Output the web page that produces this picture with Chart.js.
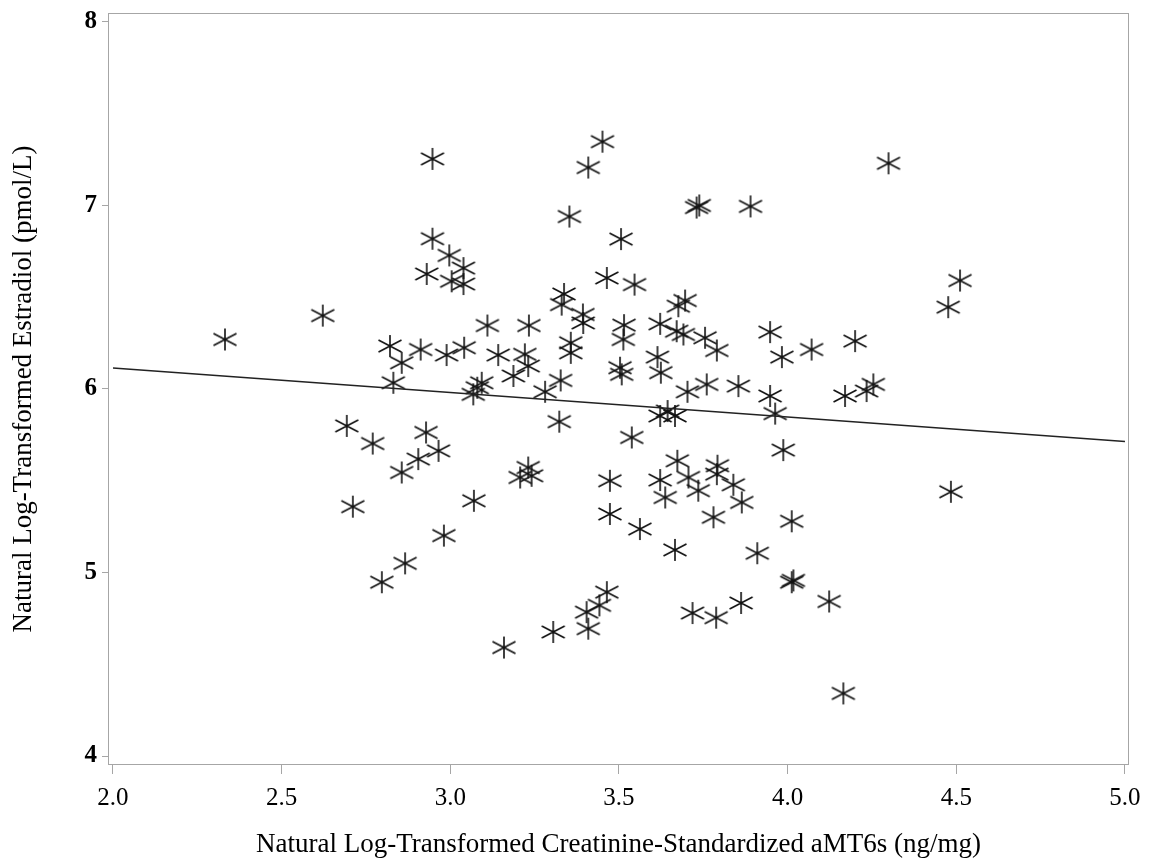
<!DOCTYPE html>
<html>
<head>
<meta charset="utf-8">
<script src="https://cdn.jsdelivr.net/npm/chart.js@4/dist/chart.umd.min.js"></script>
<style>
  body { margin: 0; background: #fff; }
</style>
</head>
<body>
<canvas id="chart" width="1152" height="862"></canvas>
<script>
// aMT6s (log) values
const amt6s = [
  2.332, 2.622, 2.693, 2.711, 2.770, 2.797, 2.821, 2.831, 2.856, 2.856,
  2.866, 2.905, 2.912, 2.928, 2.930, 2.947, 2.947, 2.965, 2.981, 2.989,
  2.997, 3.004, 3.039, 3.039, 3.041, 3.068, 3.080, 3.093, 3.070, 3.110,
  3.142, 3.159, 3.187, 3.207, 3.221, 3.231, 3.231, 3.233, 3.241, 3.281,
  3.305, 3.323, 3.327, 3.330, 3.337, 3.353, 3.357, 3.357, 3.393, 3.394,
  3.404, 3.409, 3.409, 3.442, 3.451, 3.464, 3.464, 3.473, 3.473, 3.503,
  3.508, 3.506, 3.513, 3.515, 3.538, 3.546, 3.562, 3.614, 3.622, 3.624,
  3.622, 3.622, 3.637, 3.644, 3.666, 3.666, 3.671, 3.673, 3.676, 3.691,
  3.696, 3.703, 3.706, 3.718, 3.730, 3.738, 3.735, 3.755, 3.760, 3.780,
  3.788, 3.790, 3.790, 3.792, 3.839, 3.854, 3.862, 3.864, 3.890, 3.910,
  3.948, 3.948, 3.963, 3.983, 3.987, 4.012, 4.017, 4.012, 4.071, 4.123,
  4.165, 4.170, 4.200, 4.234, 4.254, 4.299, 4.476, 4.484, 4.511
];
// estradiol (log) values, same order
const estradiol = [
  6.270, 6.400, 5.799, 5.359, 5.703, 4.947, 6.234, 6.034, 6.143, 5.545,
  5.050, 5.618, 6.215, 5.763, 6.627, 7.254, 6.819, 5.663, 5.201, 6.185,
  6.728, 6.587, 6.659, 6.572, 6.225, 5.971, 6.007, 6.034, 5.391, 6.346,
  6.185, 4.591, 6.071, 5.518, 6.189, 6.125, 5.572, 6.346, 5.527, 5.985,
  4.676, 5.822, 6.047, 6.460, 6.518, 6.940, 6.252, 6.197, 6.406, 6.360,
  4.784, 4.694, 7.207, 4.821, 7.348, 6.605, 4.893, 5.500, 5.319, 6.116,
  6.080, 6.817, 6.270, 6.348, 5.736, 6.569, 5.237, 6.174, 6.355, 6.089,
  5.853, 5.504, 5.409, 5.880, 5.853, 5.123, 6.315, 5.609, 6.451, 6.297,
  6.482, 5.985, 5.518, 4.779, 6.989, 7.000, 5.446, 6.279, 6.025, 5.301,
  4.754, 6.210, 5.536, 5.582, 5.478, 6.016, 4.834, 5.382, 6.995, 5.105,
  6.310, 5.962, 5.866, 6.174, 5.667, 4.947, 4.957, 5.279, 6.215, 4.842,
  4.341, 5.962, 6.261, 5.989, 6.025, 7.230, 6.446, 5.440, 6.591
];
// fitted line ends
const fitX = [2.0, 5.0];
const fitY = [6.115, 5.714];

const xTicks = [2.0, 2.5, 3.0, 3.5, 4.0, 4.5, 5.0];
const yTicks = [4, 5, 6, 7, 8];

const serif = "'Liberation Serif', 'DejaVu Serif', serif";

// six-armed asterisk marker
function makeStar(){
  const c = document.createElement('canvas');
  c.width = 28; c.height = 28;
  const g = c.getContext('2d');
  g.strokeStyle = '#111';
  g.lineWidth = 1.6;
  g.beginPath();
  g.moveTo(14, 3); g.lineTo(14, 25);
  g.moveTo(2.5, 8); g.lineTo(25.5, 20);
  g.moveTo(2.5, 20); g.lineTo(25.5, 8);
  g.stroke();
  return c;
}

const points = amt6s.map((v, i) => ({x: v, y: estradiol[i]}));
const fitLine = fitX.map((v, i) => ({x: v, y: fitY[i]}));

const framePlugin = {
  id: 'frame',
  afterDraw(chart){
    const a = chart.chartArea;
    const ctx = chart.ctx;
    ctx.save();
    ctx.strokeStyle = '#a6a6a6';
    ctx.lineWidth = 1;
    ctx.strokeRect(a.left + 0.5, a.top + 0.5, a.right - a.left - 1, a.bottom - a.top - 1);
    ctx.restore();
  }
};

new Chart(document.getElementById('chart'), {
  type: 'scatter',
  data: {
    datasets: [{
      type: 'line',
      data: fitLine,
      borderColor: '#222',
      borderWidth: 1.5,
      pointRadius: 0,
      fill: false
    }, {
      data: points,
      pointStyle: makeStar(),
      pointRadius: 12
    }]
  },
  options: {
    responsive: false,
    animation: false,
    layout: { padding: { top: 0, right: 23, left: 0, bottom: 0 } },
    plugins: { legend: { display: false }, tooltip: { enabled: false } },
    scales: {
      x: {
        type: 'linear',
        min: 1.9852,
        max: 5.0119,
        afterBuildTicks: s => { s.ticks = xTicks.map(v => ({value: v})); },
        afterFit: s => { s.height = 97; },
        grid: { drawOnChartArea: false, drawTicks: true, tickLength: 9, color: '#a6a6a6' },
        border: { display: false },
        ticks: {
          callback: v => Number(v).toFixed(1),
          font: { family: serif, size: 25 },
          color: '#000',
          padding: 9,
          maxRotation: 0
        },
        title: {
          display: true,
          text: 'Natural Log-Transformed Creatinine-Standardized aMT6s (ng/mg)',
          font: { family: serif, size: 27 },
          color: '#000',
          padding: { top: 0, bottom: 1 }
        }
      },
      y: {
        type: 'linear',
        min: 3.951,
        max: 8.049,
        afterBuildTicks: s => { s.ticks = yTicks.map(v => ({value: v})); },
        afterFit: s => { s.width = 108; },
        grid: { drawOnChartArea: false, drawTicks: true, tickLength: 6, color: '#a6a6a6' },
        border: { display: false },
        ticks: {
          callback: v => String(v),
          font: { family: serif, size: 25, weight: 'bold', lineHeight: 0.48 },
          color: '#000',
          padding: 5
        },
        title: {
          display: true,
          text: 'Natural Log-Transformed Estradiol (pmol/L)',
          font: { family: serif, size: 27 },
          color: '#000',
          padding: { top: 8, bottom: 0 }
        }
      }
    }
  },
  plugins: [framePlugin]
});
</script>
</body>
</html>
